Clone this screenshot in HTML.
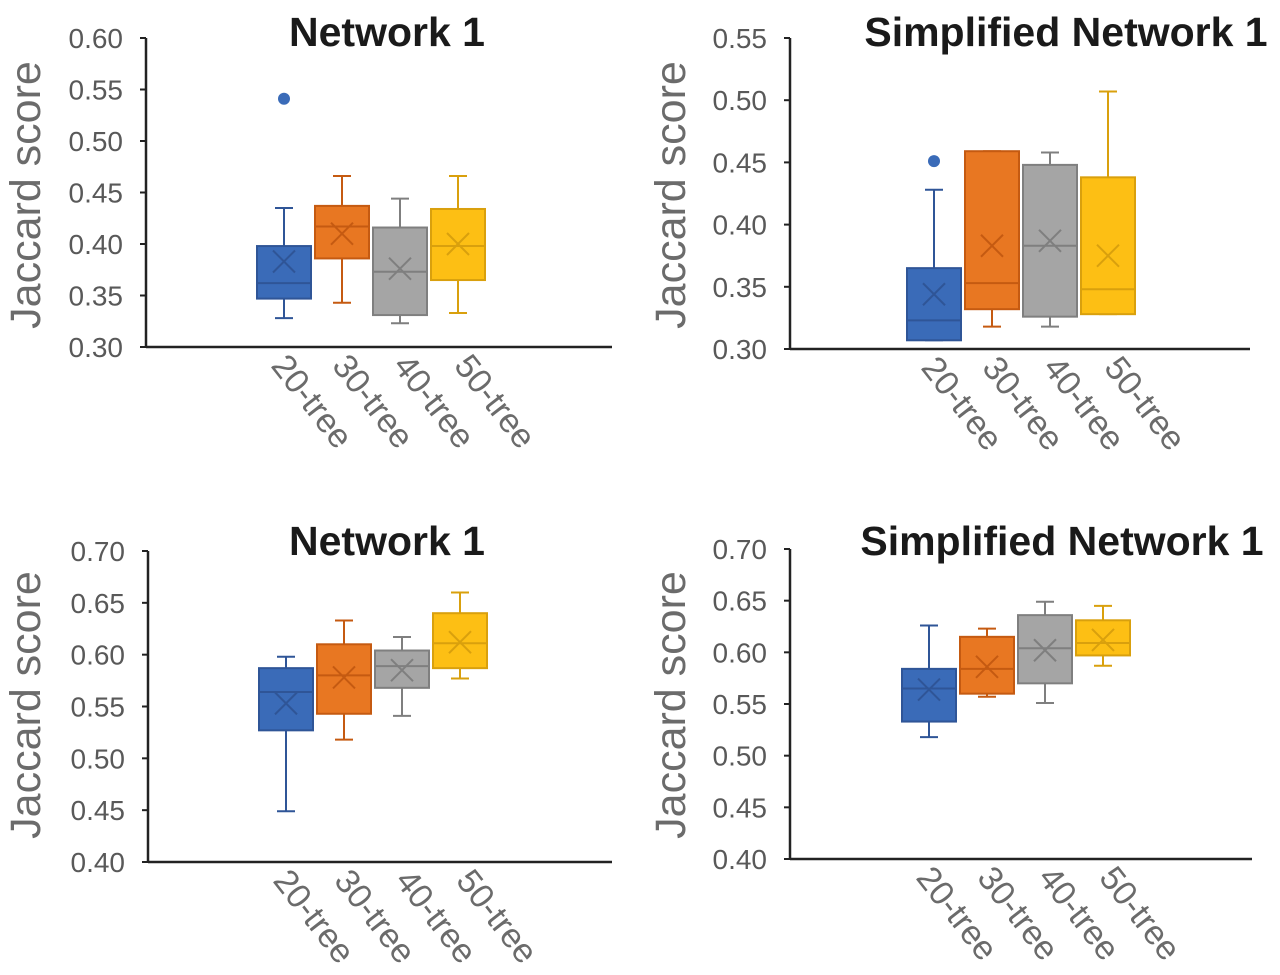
<!DOCTYPE html>
<html><head><meta charset="utf-8"><style>
html,body{margin:0;padding:0;background:#fff;}
svg{display:block;font-family:"Liberation Sans",sans-serif;}
</style></head><body>
<svg id="chart" width="1280" height="975" viewBox="0 0 1280 975" xmlns="http://www.w3.org/2000/svg"></svg>
<script>
const categories = ["20-tree","30-tree","40-tree","50-tree"];
// panel 1: Network 1 (top)
const p1Min = [0.328,0.343,0.323,0.333];
const p1Q1  = [0.347,0.386,0.331,0.365];
const p1Med = [0.362,0.417,0.373,0.398];
const p1Q3  = [0.398,0.437,0.416,0.434];
const p1Max = [0.435,0.466,0.444,0.466];
const p1Mean= [0.383,0.410,0.376,0.400];
const p1Out = [[0.541],[],[],[]];
const p1Ticks = ["0.30","0.35","0.40","0.45","0.50","0.55","0.60"];
// panel 2: Simplified Network 1 (top)
const p2Min = [0.307,0.318,0.318,0.328];
const p2Q1  = [0.307,0.332,0.326,0.328];
const p2Med = [0.323,0.353,0.383,0.348];
const p2Q3  = [0.365,0.459,0.448,0.438];
const p2Max = [0.428,0.459,0.458,0.507];
const p2Mean= [0.344,0.383,0.387,0.375];
const p2Out = [[0.451],[],[],[]];
const p2Ticks = ["0.30","0.35","0.40","0.45","0.50","0.55"];
// panel 3: Network 1 (bottom)
const p3Min = [0.449,0.518,0.541,0.577];
const p3Q1  = [0.527,0.543,0.568,0.587];
const p3Med = [0.564,0.580,0.589,0.611];
const p3Q3  = [0.587,0.610,0.604,0.640];
const p3Max = [0.598,0.633,0.617,0.660];
const p3Mean= [0.553,0.578,0.585,0.612];
const p3Out = [[],[],[],[]];
const p3Ticks = ["0.40","0.45","0.50","0.55","0.60","0.65","0.70"];
// panel 4: Simplified Network 1 (bottom)
const p4Min = [0.518,0.557,0.551,0.587];
const p4Q1  = [0.533,0.560,0.570,0.597];
const p4Med = [0.565,0.584,0.604,0.609];
const p4Q3  = [0.584,0.615,0.636,0.631];
const p4Max = [0.626,0.623,0.649,0.645];
const p4Mean= [0.564,0.586,0.602,0.612];
const p4Out = [[],[],[],[]];
const p4Ticks = ["0.40","0.45","0.50","0.55","0.60","0.65","0.70"];

const fills=["#3a6bb8","#e87722","#a5a5a5","#fdbf14"];
const strokes=["#2f5597","#c55a11","#7f7f7f","#d9a00d"];
const NS="http://www.w3.org/2000/svg";
const svg=document.getElementById('chart');
function mk(tag,attrs,parent){const e=document.createElementNS(NS,tag);for(const k in attrs)e.setAttribute(k,attrs[k]);(parent||svg).appendChild(e);return e;}

const panels=[
 {title:"Network 1",tx:387,ty:46,ax:146,ax2:612,yTop:38,yBot:347,c0:284,step:58,ticks:p1Ticks,mn:p1Min,q1:p1Q1,md:p1Med,q3:p1Q3,mx:p1Max,me:p1Mean,out:p1Out,ytx:25,yty:195,lblY:366},
 {title:"Simplified Network 1",tx:1066,ty:46,ax:790,ax2:1250,yTop:38,yBot:349,c0:934,step:58,ticks:p2Ticks,mn:p2Min,q1:p2Q1,md:p2Med,q3:p2Q3,mx:p2Max,me:p2Mean,out:p2Out,ytx:670,yty:195,lblY:368},
 {title:"Network 1",tx:387,ty:555,ax:148,ax2:612,yTop:551,yBot:862,c0:286,step:58,ticks:p3Ticks,mn:p3Min,q1:p3Q1,md:p3Med,q3:p3Q3,mx:p3Max,me:p3Mean,out:p3Out,ytx:25,yty:705,lblY:881},
 {title:"Simplified Network 1",tx:1062,ty:555,ax:790,ax2:1252,yTop:549,yBot:859,c0:929,step:58,ticks:p4Ticks,mn:p4Min,q1:p4Q1,md:p4Med,q3:p4Q3,mx:p4Max,me:p4Mean,out:p4Out,ytx:670,yty:705,lblY:878}
];

panels.forEach((p,pi)=>{
 const g=mk('g',{});
 
 
 const lo=parseFloat(p.ticks[0]),hi=parseFloat(p.ticks[p.ticks.length-1]);
 const y=v=>p.yBot-(v-lo)/(hi-lo)*(p.yBot-p.yTop);
 const x=i=>p.c0+i*p.step;
 const t=mk('text',{x:p.tx,y:p.ty,'text-anchor':'middle','font-size':41,'font-weight':'bold',fill:'#1a1a1a'},g);
 t.textContent=p.title;
 
 
 const yt=mk('text',{x:p.ytx,y:p.yty,'text-anchor':'middle','font-size':43,fill:'#6b6b6b',transform:`rotate(-90 ${p.ytx} ${p.yty})`,dy:15},g);
 yt.textContent="Jaccard score";
 
 
 p.ticks.forEach(tk=>{
  const v=parseFloat(tk),yy=y(v);
  mk('line',{x1:p.ax-6,x2:p.ax,y1:yy,y2:yy,stroke:'#222','stroke-width':2},g);
  const tl=mk('text',{x:p.ax-23,y:yy+10,'text-anchor':'end','font-size':28,fill:'#595959'},g);
  tl.textContent=tk;
  
  
 });
 mk('line',{x1:p.ax,x2:p.ax,y1:p.yTop,y2:p.yBot,stroke:'#222','stroke-width':2.5},g);
 mk('line',{x1:p.ax,x2:p.ax2,y1:p.yBot,y2:p.yBot,stroke:'#222','stroke-width':2.5},g);
 categories.forEach((c,i)=>{
  const cx=x(i),w=54,s=strokes[i];
  const bg=mk('g',{},g);
  
  
  mk('line',{x1:cx,x2:cx,y1:y(p.mx[i]),y2:y(p.q3[i]),stroke:s,'stroke-width':2},bg);
  mk('line',{x1:cx,x2:cx,y1:y(p.q1[i]),y2:y(p.mn[i]),stroke:s,'stroke-width':2},bg);
  mk('line',{x1:cx-9,x2:cx+9,y1:y(p.mx[i]),y2:y(p.mx[i]),stroke:s,'stroke-width':2},bg);
  mk('line',{x1:cx-9,x2:cx+9,y1:y(p.mn[i]),y2:y(p.mn[i]),stroke:s,'stroke-width':2},bg);
  mk('rect',{x:cx-w/2,y:y(p.q3[i]),width:w,height:y(p.q1[i])-y(p.q3[i]),fill:fills[i],stroke:s,'stroke-width':2},bg);
  mk('line',{x1:cx-w/2,x2:cx+w/2,y1:y(p.md[i]),y2:y(p.md[i]),stroke:s,'stroke-width':2},bg);
  const my=y(p.me[i]);
  mk('path',{d:`M${cx-11} ${my-11}L${cx+11} ${my+11}M${cx+11} ${my-11}L${cx-11} ${my+11}`,stroke:s,'stroke-width':2,fill:'none'},bg);
  p.out[i].forEach(o=>{
   const d=mk('circle',{cx:cx,cy:y(o),r:6,fill:fills[i]},bg);
   
   
  });
  const lx=cx-14+i*3,ly=p.lblY;
  const xl=mk('text',{x:lx,y:ly,'font-size':34,fill:'#6b6b6b',transform:`rotate(52 ${lx} ${ly})`},g);
  xl.textContent=c;
  
  
 });
});
</script>
</body></html>
